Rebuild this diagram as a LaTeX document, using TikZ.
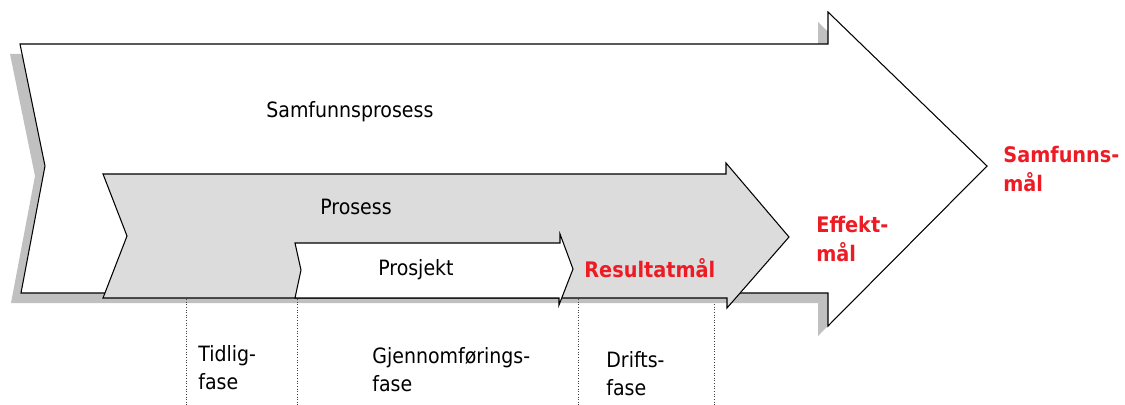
\documentclass[tikz,border=0pt]{standalone}
\usepackage{fontspec}
\setmainfont{DejaVu Sans Condensed}
\definecolor{goalred}{RGB}{237,28,36}
\definecolor{procgray}{RGB}{220,220,220}
\definecolor{shadowgray}{RGB}{192,192,192}
\begin{document}
\begin{tikzpicture}[x=0.02cm,y=-0.02cm]
    % Styles
    \tikzstyle{arrow_shape} = [draw=black, line width=0.6pt, line join=miter]
    \tikzstyle{label_text} = [inner sep=0pt, anchor=west, align=left, font=\fontsize{12}{16}\selectfont]
    \tikzstyle{goal_text} = [label_text, text=goalred, font=\fontsize{12.2}{16}\selectfont\bfseries]
    \tikzstyle{phase_line} = [densely dotted, line width=0.5pt, draw=black!75]

    \useasboundingbox (0,0) rectangle (1125,405);

    % Shadow of the outer arrow
    \begin{scope}[shift={(-10,10)}]
        \fill[shadowgray] (20,44) -- (828,44) -- (828,12) -- (987,166) -- (828,326) -- (828,293) -- (21,293) -- (45,166) -- cycle;
    \end{scope}

    % Arrows
    \draw[arrow_shape, fill=white] (20,44) -- (828,44) -- (828,12) -- (987,166) -- (828,326) -- (828,293) -- (21,293) -- (45,166) -- cycle;
    \draw[arrow_shape, fill=procgray] (103,174) -- (726,174) -- (726,163) -- (789,237) -- (727,308) -- (727,298) -- (103,298) -- (127,236) -- cycle;
    \draw[arrow_shape, fill=white] (295,243) -- (560,243) -- (560,234) -- (573,269) -- (559,305) -- (559,298) -- (295,298) -- (301,270) -- cycle;

    % Labels
    \node[label_text] (samfunnsprosess) at (266,112) {Samfunnsprosess};
    \node[label_text] (prosess) at (320,207) {Prosess};
    \node[label_text] (prosjekt) at (378,270) {Prosjekt};
    \node[goal_text] (resultatmal) at (584,268) {Resultatmål};
    \node[goal_text] (effektmal) at (816,239) {Effekt-\\mål};
    \node[goal_text] (samfunnsmal) at (1003,169) {Samfunns-\\mål};

    % Phases
    \node[label_text] (tidlig) at (198,368) {Tidlig-\\fase};
    \node[label_text] (gjennomforing) at (372,370) {Gjennomførings-\\fase};
    \node[label_text] (drift) at (606,374) {Drifts-\\fase};

    \coordinate (p1top) at (186,299);
    \coordinate (p1bot) at (186,405);
    \coordinate (p2top) at (297,299);
    \coordinate (p2bot) at (297,405);
    \coordinate (p3top) at (578,299);
    \coordinate (p3bot) at (578,405);
    \coordinate (p4top) at (714,304);
    \coordinate (p4bot) at (714,405);
    \draw[phase_line] (p1top) -- (p1bot);
    \draw[phase_line] (p2top) -- (p2bot);
    \draw[phase_line] (p3top) -- (p3bot);
    \draw[phase_line] (p4top) -- (p4bot);
\end{tikzpicture}
\end{document}
